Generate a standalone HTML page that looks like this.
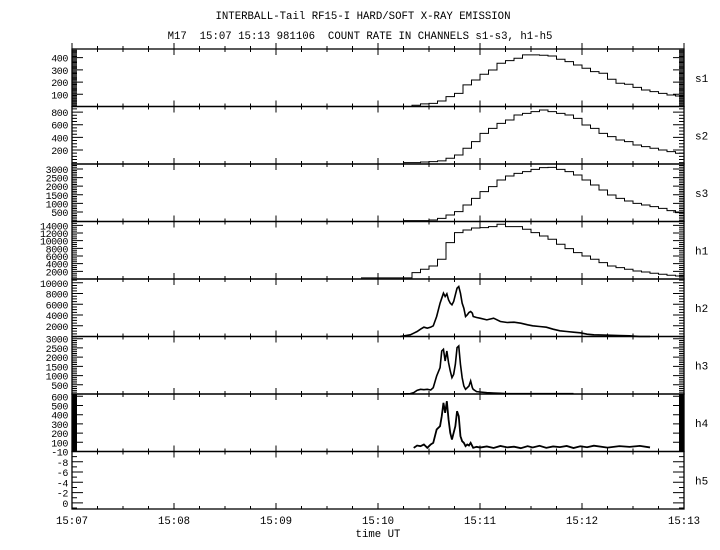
<!DOCTYPE html>
<html><head><meta charset="utf-8"><style>
html,body{margin:0;padding:0;background:#fff;}
svg{display:block;}
text{font-family:"Liberation Mono",monospace;fill:#000;}
</style></head><body>
<svg id="chart" width="720" height="550" viewBox="0 0 720 550" xmlns="http://www.w3.org/2000/svg">
<text x="363" y="19" font-size="10.7" text-anchor="middle">INTERBALL-Tail RF15-I HARD/SOFT X-RAY EMISSION</text>
<text x="360" y="39" font-size="10.7" text-anchor="middle" xml:space="preserve">M17  15:07 15:13 981106  COUNT RATE IN CHANNELS s1-s3, h1-h5</text>
<text x="378" y="537" font-size="10.7" text-anchor="middle">time UT</text>
<g id="g"></g>
</svg>
<script>
// ---- data ----
const panelNames = ['s1','s2','s3','h1','h2','h3','h4','h5'];
const panelMin = [0,-21,-52,0,0,0,0,-10];
const panelMax = [471,888,3288,15000,10700,3120,625,1.2];
const panelTicks = [[100,200,300,400],[200,400,600,800],[500,1000,1500,2000,2500,3000],[2000,4000,6000,8000,10000,12000,14000],[2000,4000,6000,8000,10000],[500,1000,1500,2000,2500,3000],[100,200,300,400,500,600],[0,-2,-4,-6,-8,-10]];
const panelMinor = [10,50,100,500,500,100,10,1];
const xTickLabels = ['15:07','15:08','15:09','15:10','15:11','15:12','15:13'];
// soft channels: 5-second bins, seconds after 15:07
const sTimes = [195,200,205,210,215,220,225,230,235,240,245,250,255,260,265,270,275,280,285,290,295,300,305,310,315,320,325,330,335,340,345,350,355];
const s1 = [0,10,21,26,45,81,108,177,217,264,299,354,376,395,423,423,420,414,387,368,340,313,286,272,223,190,182,157,135,122,108,94,86];
const s2 = [0,0,10,17,28,69,122,227,332,464,543,622,675,754,780,807,833,807,780,754,701,596,543,464,411,359,332,280,253,227,200,174,148];
const s3 = [0,0,0,35,132,325,519,906,1294,1681,1971,2358,2591,2746,2843,2979,3074,3095,2979,2843,2649,2358,2068,1778,1487,1294,1139,1003,906,809,713,577,461];
const h1Times = [170,175,180,185,190,195,200,205,210,215,220,225,230,235,240,245,250,255,260,265,270,275,280,285,290,295,300,305,310,315,320,325,330,335,340,345,350,355];
const h1 = [300,300,300,300,300,300,1662,2532,3401,5141,9492,12102,12798,13320,13407,13668,14277,13668,13668,12971,12102,11231,10362,9057,7926,6882,6011,5141,4272,3401,2968,2532,2097,1836,1488,1227,966,792];
// hard channels
const hTimes = [193,199,201,203,205,207,209,211,212.5,214.5,216.5,217.5,218.5,219.5,220.5,221.5,222.5,223.5,224.5,225.5,226.5,227.5,228.5,229.5,230.5,231.5,232.5,233.5,234.5,235.5,236,238,240,244,248,252,256,260,264,268,271,275,279,283,287,291,295,299,303,307,315,322,328,334,340];
const h2 = [0,310,620,930,1364,1736,1550,1736,1984,3720,6200,7130,8060,7440,7936,6820,6200,5890,6510,7750,8990,9300,8060,6200,5270,3720,4030,4464,4650,4340,3720,3534,3410,3100,3410,2790,2604,2666,2480,2170,1984,1860,1736,1364,1054,930,806,682,434,310,248,186,124,0,0];
const h3 = [0,18,72,199,253,235,253,217,344,977,1430,2335,2425,1792,2335,1701,1249,887,1068,1611,2516,2606,1611,887,434,253,344,434,706,344,253,127,109,72,54,36,18,18,18,18,18,18,18,18,18,18,18,null,null,null,null,null,null,null,null];
const h4 = [null,null,40,65,58,76,40,76,94,239,275,384,529,420,547,348,203,130,203,275,438,384,167,112,94,58,76,65,94,58,40,51,43,55,38,60,45,52,36,58,44,62,40,55,48,60,38,57,46,63,42,58,50,61,44];
// ---- layout ----
const X0=72, X1=684, TOP=49, PH=57.5;
function xScale(t){return X0 + t*(X1-X0)/360;}
function yScale(i,v){const b=TOP+(i+1)*PH;return b-(v-panelMin[i])/(panelMax[i]-panelMin[i])*PH;}
function yScaleH5(v){return TOP+7*PH+(v+10)/(panelMax[7]+10)*PH;}
const NS='http://www.w3.org/2000/svg';
const g=document.getElementById('g');
function mk(tag,attrs){const e=document.createElementNS(NS,tag);for(const k in attrs)e.setAttribute(k,attrs[k]);g.appendChild(e);return e;}
// panels
for(let i=0;i<8;i++){
  const top=TOP+i*PH, bot=top+PH;
  const fr=mk('rect',{x:X0,y:top,width:X1-X0,height:PH,fill:'none',stroke:'#000','stroke-width':1.3});
  
  
  // minor y ticks
  let d='';
  const lo=Math.min(panelMin[i],panelMax[i]), hi=Math.max(panelMin[i],panelMax[i]);
  for(let v=Math.ceil(lo/panelMinor[i])*panelMinor[i]; v<=hi; v+=panelMinor[i]){
    const y=(i===7)?yScaleH5(v):yScale(i,v);
    d+='M'+X0+' '+y+'h5M'+X1+' '+y+'h-5';
  }
  for(const v of panelTicks[i]){
    const y=(i===7)?yScaleH5(v):yScale(i,v);
    d+='M'+X0+' '+y+'h11M'+X1+' '+y+'h-11';
    const tl=mk('text',{x:X0-4,y:y+4,'font-size':10,'text-anchor':'end','letter-spacing':'-0.4'});
    
    
    tl.textContent=String(v);
  }
  // x ticks on top and bottom edges
  for(let k=0;k<=24;k++){
    const x=xScale(k*15), L=(k%4===0)?6:3;
    d+='M'+x+' '+top+'v'+L+'M'+x+' '+top+'v-'+L+'M'+x+' '+bot+'v-'+L;
  }
  const tk=mk('path',{d:d,stroke:'#000','stroke-width':1,fill:'none'});
  
  
  const cl=mk('text',{x:695,y:(top+bot)/2+4,'font-size':11});
  
  
  cl.textContent=panelNames[i];
}
// x labels
xTickLabels.forEach((s,k)=>{
  const t=mk('text',{x:xScale(k*60),y:524,'font-size':10.7,'text-anchor':'middle'});
  
  
  t.textContent=s;
});
// step series
function stepPath(i,times,vals,w){
  let d='';
  for(let k=0;k<vals.length;k++){
    const x0=xScale(times[k]), x1=xScale(times[k]+w), y=yScale(i,vals[k]);
    d+=(k===0?'M':'L')+x0+' '+y+'L'+x1+' '+y;
  }
  return d;
}
function linePath(i,times,vals){
  let d='',pen=false;
  for(let k=0;k<vals.length;k++){
    if(vals[k]===null){pen=false;continue;}
    d+=(pen?'L':'M')+xScale(times[k])+' '+yScale(i,vals[k]);pen=true;
  }
  return d;
}
const sers=[[0,stepPath(0,sTimes,s1,5),'series-s1',1],[1,stepPath(1,sTimes,s2,5),'series-s2',1],[2,stepPath(2,sTimes,s3,5),'series-s3',1],[3,stepPath(3,h1Times,h1,5),'series-h1',1],[4,linePath(4,hTimes,h2),'series-h2',1.6],[5,linePath(5,hTimes,h3),'series-h3',1.6],[6,linePath(6,hTimes,h4),'series-h4',1.8]];
for(const s of sers){
  const p=mk('path',{d:s[1],stroke:'#000','stroke-width':s[3],fill:'none'});
  
  
}
</script>
</body></html>
